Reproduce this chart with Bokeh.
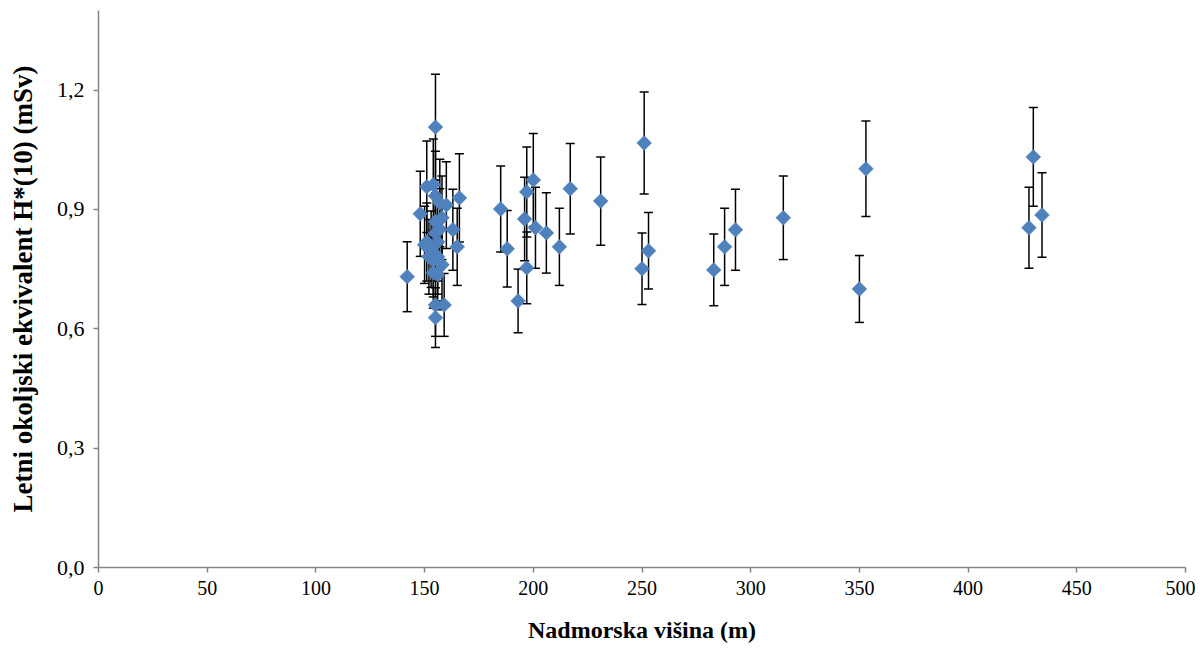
import math
from bokeh.plotting import figure
from bokeh.models import FixedTicker, ColumnDataSource
from bokeh.embed import file_html
from bokeh.resources import INLINE

# altitude (m)
altitude = [142, 155, 151, 154, 155, 166, 157, 160, 148, 155, 158, 163, 155, 151,
            156, 165, 150, 152, 156, 154, 158, 154, 156, 155, 159, 155, 153, 157,
            185, 188, 193, 196, 197, 197, 200, 201, 206, 212, 217, 231, 251, 250,
            253, 283, 288, 293, 315, 350, 353, 428, 430, 434]
# annual ambient dose equivalent H*(10) (mSv)
dose = [0.731, 1.107, 0.957, 0.962, 0.934, 0.929, 0.916, 0.911, 0.889, 0.869, 0.879, 0.849, 0.841, 0.818,
        0.818, 0.806, 0.811, 0.781, 0.781, 0.773, 0.761, 0.741, 0.736, 0.660, 0.660, 0.628, 0.800, 0.850,
        0.901, 0.801, 0.670, 0.876, 0.944, 0.753, 0.974, 0.854, 0.841, 0.806, 0.952, 0.921, 1.067, 0.751,
        0.796, 0.748, 0.806, 0.849, 0.879, 0.700, 1.002, 0.854, 1.032, 0.886]
# uncertainty (mSv)
err = [0.088, 0.133, 0.115, 0.115, 0.112, 0.111, 0.110, 0.109, 0.107, 0.104, 0.105, 0.102, 0.101, 0.098,
       0.098, 0.097, 0.097, 0.094, 0.094, 0.093, 0.091, 0.089, 0.088, 0.079, 0.079, 0.075, 0.096, 0.102,
       0.108, 0.096, 0.080, 0.105, 0.113, 0.090, 0.117, 0.102, 0.101, 0.097, 0.114, 0.111, 0.128, 0.090,
       0.096, 0.090, 0.097, 0.102, 0.105, 0.084, 0.120, 0.102, 0.124, 0.106]

x_ticks = [0, 50, 100, 150, 200, 250, 300, 350, 400, 450, 500]
y_ticks = [0.0, 0.3, 0.6, 0.9, 1.2]
y_tick_labels = ["0,0", "0,3", "0,6", "0,9", "1,2"]

upper = [d + e for d, e in zip(dose, err)]
lower = [d - e for d, e in zip(dose, err)]
src = ColumnDataSource(dict(x=altitude, y=dose, up=upper, lo=lower))

FONT = "Liberation Serif"
p = figure(width=1195, height=645, x_range=(0, 500), y_range=(0, 1.4),
           output_backend="svg", toolbar_location=None,
           min_border_left=98, min_border_right=10, min_border_top=10, min_border_bottom=77)
p.xgrid.visible = False
p.ygrid.visible = False
p.outline_line_color = None
p.background_fill_color = "white"

p.segment(x0="x", y0="lo", x1="x", y1="up", source=src, line_color="black", line_width=1.5)
p.scatter(x="x", y="up", source=src, marker="dash", size=9, line_color="black", line_width=1.5)
p.scatter(x="x", y="lo", source=src, marker="dash", size=9, line_color="black", line_width=1.5)
p.scatter(x="x", y="y", source=src, marker="square", angle=math.pi / 4, size=10.5,
          fill_color="#4F81BD", line_color="#4F81BD", line_width=0.5)

for ax in (p.xaxis[0], p.yaxis[0]):
    ax.axis_line_color = "#868686"
    ax.axis_line_width = 1.5
    ax.major_tick_line_color = "#868686"
    ax.major_tick_line_width = 1.5
    ax.major_tick_out = 5
    ax.major_tick_in = 0
    ax.minor_tick_line_color = None
    ax.major_label_text_font = FONT
    ax.major_label_text_color = "black"
    ax.axis_label_text_font = FONT
    ax.axis_label_text_font_style = "bold"
    ax.axis_label_text_color = "black"

p.xaxis.major_label_text_font_size = "20px"
p.yaxis.major_label_text_font_size = "22px"
p.xaxis.axis_label_text_font_size = "24px"
p.yaxis.axis_label_text_font_size = "27px"
p.xaxis.ticker = FixedTicker(ticks=x_ticks)
p.yaxis.ticker = FixedTicker(ticks=y_ticks)
p.yaxis.major_label_overrides = {t: l for t, l in zip(y_ticks, y_tick_labels)}
p.xaxis.major_label_standoff = 8
p.yaxis.major_label_standoff = 9
p.xaxis.axis_label = "Nadmorska višina (m)"
p.yaxis.axis_label = "Letni okoljski ekvivalent H*(10) (mSv)"
p.xaxis.axis_label_standoff = 19
p.yaxis.axis_label_standoff = 16

open("out.html", "w").write(file_html(p, INLINE))
